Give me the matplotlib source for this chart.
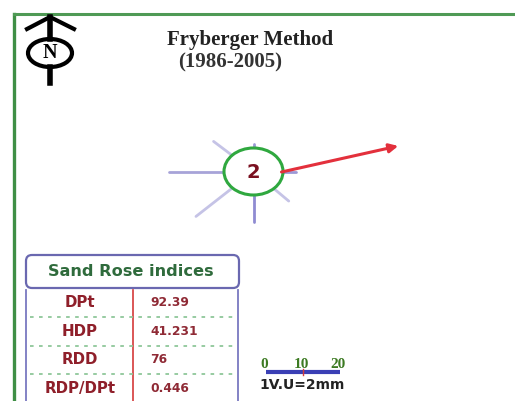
import numpy as np
import matplotlib
matplotlib.use('Agg')
import matplotlib.pyplot as plt
from matplotlib.patches import Ellipse, FancyBboxPatch

# rose arms, angle in degrees clockwise from north, length in pixels
rose_dirs = [0, 90, 130, 180, 232, 270, 307]
rose_lengths = [28, 42, 46, 50, 73, 85, 50]
rose_colors = ['#9c98d6', '#9c98d6', '#c5c3e6', '#8f8bd2', '#c5c3e6', '#a7a3d8', '#c5c3e6']
arrow_dir = 80
arrow_len = 147
circle_value = '2'

index_names = ['DPt', 'HDP', 'RDD', 'RDP/DPt']
index_values = ['92.39', '41.231', '76', '0.446']
scale_ticks = [0, 10, 20]

fig = plt.figure(figsize=(5.15, 4.01), dpi=100)
ax = fig.add_axes([0, 0, 1, 1])
ax.set_xlim(0, 515)
ax.set_ylim(401, 0)
ax.axis('off')

# green frame
ax.plot([14, 14], [401, 14], color='#3f8f45', lw=2.4)
ax.plot([14, 515], [14, 14], color='#4f9a55', lw=2.2)

# north sign
ax.plot([27, 50, 74], [29, 17, 29], color='black', lw=3)
ax.plot([50, 50], [17, 39], color='black', lw=4)
ax.plot([50, 50], [67, 83], color='black', lw=4)
ax.add_patch(Ellipse((50, 53), 44, 28, fc='white', ec='black', lw=3))
ax.text(50, 53, 'N', ha='center', va='center', family='Liberation Serif',
        weight='bold', fontsize=14.5)

ax.text(250, 40, 'Fryberger Method', ha='center', va='center',
        family='Liberation Serif', weight='bold', fontsize=15, color='#222222')
ax.text(230, 62, '(1986-2005)', ha='center', va='center',
        family='Liberation Serif', weight='bold', fontsize=15, color='#333333')

# sand rose
cx, cy = 253.5, 171.5
for d, l, c in zip(rose_dirs, rose_lengths, rose_colors):
    a = np.radians(d)
    ax.plot([cx, cx + l * np.sin(a)], [cy, cy - l * np.cos(a)],
            color=c, lw=2, solid_capstyle='round', zorder=2)
a = np.radians(arrow_dir)
ax.annotate('', xy=(cx + arrow_len * np.sin(a), cy - arrow_len * np.cos(a)),
            xytext=(cx + 28, cy + 0.5), zorder=4,
            arrowprops=dict(arrowstyle='-|>', color='#e3303c', lw=2.2,
                            mutation_scale=13, shrinkA=0, shrinkB=0))
ax.add_patch(Ellipse((cx, cy), 59, 47, fc='white', ec='#2fa83f', lw=2.2, zorder=3))
ax.text(cx, cy + 1, circle_value, ha='center', va='center', weight='bold',
        fontsize=14, color='#7a1020', zorder=5)

# indices table
ax.add_patch(FancyBboxPatch((29, 258), 207, 27, boxstyle='round,pad=3,rounding_size=6',
                            fc='white', ec='#6a68b0', lw=1.6))
ax.text(131, 271, 'Sand Rose indices', ha='center', va='center', weight='bold',
        family='DejaVu Sans', fontsize=11.6, color='#2f6b3c')
ax.plot([26, 26], [290, 401], color='#7a78c0', lw=1.3)
ax.plot([238, 238], [290, 401], color='#7a78c0', lw=1.3)
ax.plot([133, 133], [290, 401], color='#d43a3a', lw=1.2)
for i, (name, val) in enumerate(zip(index_names, index_values)):
    y = 302.5 + i * 28.7
    ax.text(80, y, name, ha='center', va='center', weight='bold',
            family='DejaVu Sans', fontsize=10.8, color='#8f1f2a')
    ax.text(150, y, val, ha='left', va='center', weight='bold',
            family='DejaVu Sans', fontsize=8.8, color='#8f2a35')
    if i < len(index_names) - 1:
        ax.plot([30, 235], [y + 14.3, y + 14.3], color='#8fc79a', lw=1.3,
                ls=(0, (2, 3)))

# scale bar
sx0, sx1 = 266, 340
scale_x = np.interp(scale_ticks, [scale_ticks[0], scale_ticks[-1]], [sx0, sx1])
ax.plot([sx0, sx1], [372, 372], color='#3a3fb5', lw=3, solid_capstyle='butt')
ax.plot([scale_x[1], scale_x[1]], [369, 375], color='#d43a3a', lw=1)
for x, t in zip(scale_x, scale_ticks):
    ax.text(x - 2, 364, str(t), ha='center', va='center', weight='bold',
            family='Liberation Serif', fontsize=11, color='#3c7a22')
ax.text(302, 385, '1V.U=2mm', ha='center', va='center', weight='bold',
        family='DejaVu Sans', fontsize=10, color='#222222')

fig.savefig('out.png', dpi=100)
